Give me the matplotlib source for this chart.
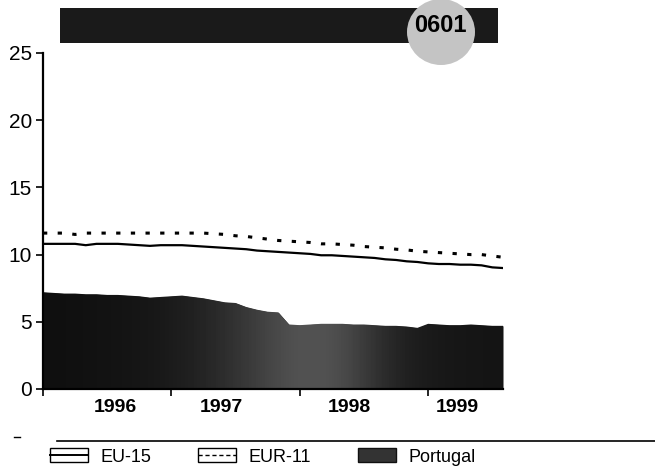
import numpy as np
import matplotlib
matplotlib.use("Agg")
import matplotlib.pyplot as plt
from matplotlib.lines import Line2D
from matplotlib.patches import Patch, Rectangle, Ellipse
from matplotlib.legend_handler import HandlerTuple

plt.rcParams['font.family'] = ['Liberation Sans', 'DejaVu Sans']

# monthly values, Jan 1996 .. Aug 1999
months = np.arange(44)
eu15 = [10.8, 10.8, 10.8, 10.8, 10.7, 10.8, 10.8, 10.8, 10.75, 10.7,
        10.65, 10.7, 10.7, 10.7, 10.65, 10.6, 10.55, 10.5, 10.45, 10.4,
        10.3, 10.25, 10.2, 10.15, 10.1, 10.05, 9.95, 9.95, 9.9, 9.85,
        9.8, 9.75, 9.65, 9.6, 9.5, 9.45, 9.35, 9.3, 9.3, 9.25,
        9.25, 9.2, 9.05, 9.0]
eur11 = [11.6, 11.6, 11.6, 11.5, 11.6, 11.6, 11.6, 11.6, 11.6, 11.6,
         11.6, 11.6, 11.6, 11.6, 11.6, 11.6, 11.55, 11.5, 11.4, 11.35,
         11.25, 11.15, 11.05, 11.0, 10.95, 10.9, 10.8, 10.8, 10.75, 10.7,
         10.6, 10.55, 10.5, 10.4, 10.35, 10.25, 10.2, 10.15, 10.1, 10.05,
         10.0, 10.0, 9.9, 9.8]
portugal = [7.2, 7.15, 7.1, 7.1, 7.05, 7.05, 7.0, 7.0, 6.95, 6.9,
            6.8, 6.85, 6.9, 6.95, 6.85, 6.75, 6.6, 6.45, 6.4, 6.1,
            5.9, 5.75, 5.7, 4.8, 4.75, 4.8, 4.85, 4.85, 4.85, 4.8,
            4.8, 4.75, 4.7, 4.7, 4.65, 4.55, 4.85, 4.8, 4.75, 4.75,
            4.8, 4.75, 4.7, 4.7]
years = ['1996', '1997', '1998', '1999']
year_label_pos = [6.8, 16.7, 28.6, 38.7]
year_ticks = [0, 12, 24, 36]

fig = plt.figure(figsize=(6.55, 4.68), dpi=100)
ax = fig.add_axes([43 / 655, 1 - 389 / 468, 460 / 655, 336 / 468])

# Portugal area, dark with a lighter band in the middle
poly = ax.fill_between(months, 0, portugal, color='#111111', lw=0, zorder=1)
grad = np.array([[0.06, 0.07, 0.08, 0.10, 0.14, 0.20, 0.28, 0.34, 0.30,
                  0.18, 0.11, 0.09, 0.08]])
img = ax.imshow(grad, cmap='gray', vmin=0, vmax=1, aspect='auto',
                extent=[0, 43, 0, 8], interpolation='bicubic', zorder=2)
img.set_clip_path(poly.get_paths()[0], transform=ax.transData)

ax.plot(months, eu15, color='black', lw=1.6, zorder=3)
ax.plot(months, eur11, color='black', lw=2.2, ls=(0, (1.4, 3.4)), zorder=3)

ax.set_xlim(0, 43)
ax.set_ylim(0, 25)
ax.set_yticks([0, 5, 10, 15, 20, 25])
ax.tick_params(axis='y', labelsize=15, length=5, width=1.2, pad=3)
ax.set_xticks(year_ticks)
ax.set_xticklabels([])
ax.tick_params(axis='x', length=5, width=1.2, direction='out')
ax.set_xticks(year_label_pos, minor=True)
ax.set_xticklabels(years, minor=True, fontsize=14, fontweight='bold')
ax.tick_params(axis='x', which='minor', length=0, pad=7)
for s in ['top', 'right']:
    ax.spines[s].set_visible(False)
ax.spines['left'].set_linewidth(1.6)
ax.spines['bottom'].set_linewidth(1.6)

# header bar with the code badge
fig.add_artist(Rectangle((60 / 655, 1 - 43 / 468), 438 / 655, 35 / 468,
                         transform=fig.transFigure, facecolor='#1a1a1a',
                         edgecolor='none'))
fig.add_artist(Ellipse((441 / 655, 1 - 32 / 468), 68 / 655, 66 / 468,
                       transform=fig.transFigure, facecolor='#c4c4c4',
                       edgecolor='none'))
fig.text(440 / 655, 1 - 25 / 468, '0601', fontsize=17, fontweight='bold',
         ha='center', va='center')

# rule above legend
fig.add_artist(Line2D([57 / 655, 1.0], [1 - 441 / 468, 1 - 441 / 468],
                      transform=fig.transFigure, color='black', lw=1.2))
fig.add_artist(Line2D([14 / 655, 20 / 655], [1 - 437 / 468, 1 - 437 / 468],
                      transform=fig.transFigure, color='black', lw=1.0))

box = dict(facecolor='white', edgecolor='black', lw=1.0)
h_eu15 = (Patch(**box), Line2D([], [], color='black', lw=1.4))
h_eur11 = (Patch(**box), Line2D([], [], color='black', lw=1.0, ls=(0, (3, 2))))
h_pt = Patch(facecolor='#333333', edgecolor='#111111')
fig.legend([h_eu15, h_eur11, h_pt], ['EU-15', 'EUR-11', 'Portugal'],
           handler_map={tuple: HandlerTuple(ndivide=1)},
           loc='center left', bbox_to_anchor=(50 / 655, 1 - 457 / 468),
           ncol=3, frameon=False, fontsize=13, handlelength=2.1,
           handleheight=0.8, columnspacing=2.6, handletextpad=0.7,
           borderpad=0, borderaxespad=0)

fig.savefig('out.png', dpi=100)
